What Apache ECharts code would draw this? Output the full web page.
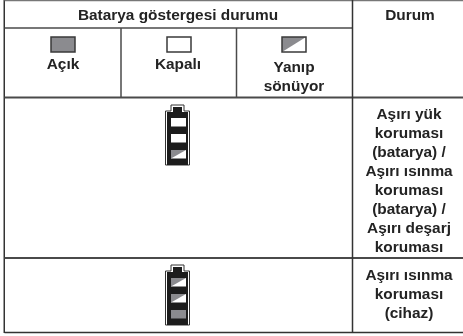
<!DOCTYPE html>
<html>
<head>
<meta charset="utf-8">
<style>
  html, body { margin: 0; padding: 0; background: #fff; }
  #chart { width: 463px; height: 336px; }
</style>
<script src="https://cdn.jsdelivr.net/npm/echarts@6/dist/echarts.min.js"></script>
</head>
<body>
<div id="chart"></div>
<script>
const tableTitle = 'Batarya göstergesi durumu';
const conditionTitle = 'Durum';
const stateLabels = ['Açık', 'Kapalı', 'Yanıp\nsönüyor'];
const conditionLabels = [
  'Aşırı yük\nkoruması\n(batarya) /\nAşırı ısınma\nkoruması\n(batarya) /\nAşırı deşarj\nkoruması',
  'Aşırı ısınma\nkoruması\n(cihaz)',
];
// top to bottom, one list per battery row
const batteryStates = [
  ['off', 'off', 'blink'],
  ['blink', 'blink', 'on'],
];
const legendStates = ['on', 'off', 'blink'];

const GRAY = '#8b8b8f';
const INK = '#232323';
const LINE = '#4a4a4a';
const FONT = '"Liberation Sans", Arial, sans-serif';

const colX = [4.5, 121, 236.5, 352.5, 463];
const rowY = [0.5, 28, 97.5, 258, 332.5];
const batteryTop = [105, 265];
const legendX = [51, 167, 282];

const chart = echarts.init(document.getElementById('chart'));

function rule(x1, y1, x2, y2, color, width) {
  return { type: 'line', shape: { x1, y1, x2, y2 }, style: { stroke: color, lineWidth: width } };
}

function label(text, x, y) {
  return {
    type: 'text',
    x,
    y,
    style: {
      text,
      fill: INK,
      font: 'bold 15.4px ' + FONT,
      align: 'center',
      verticalAlign: 'middle',
      lineHeight: 19,
    },
  };
}

function batteryOutline(top, a, b, c, d, e, f, style) {
  return {
    type: 'polygon',
    shape: {
      points: [
        [a, top + e], [b, top + e], [b, top + f], [c, top + f], [c, top + e],
        [d, top + e], [d, top + 60], [a, top + 60],
      ],
    },
    style,
  };
}

function batteryFrame(top) {
  return [
    batteryOutline(top, 165.5, 171, 184, 189.5, 6, 0, { fill: '#fff', stroke: '#333', lineWidth: 1 }),
    batteryOutline(top, 167, 173, 182, 188, 7, 2, { fill: '#1c1c1c' }),
  ];
}

// one window, either legend swatch or battery segment
function drawWindow(x, y, w, h, state, stroke) {
  const children = [{
    type: 'rect',
    shape: { x, y, width: w, height: h },
    style: { fill: state === 'on' ? GRAY : '#fff' },
  }];
  if (state === 'blink') {
    children.push({
      type: 'polygon',
      shape: { points: [[x, y], [x + w, y], [x, y + h]] },
      style: { fill: GRAY },
    });
  }
  if (stroke) {
    children.push({
      type: 'rect',
      shape: { x, y, width: w, height: h },
      style: { fill: 'none', stroke, lineWidth: 1.5 },
    });
  }
  return { type: 'group', children };
}

const windowData = [];
legendStates.forEach((state, i) => windowData.push(['legend', i, 0, state]));
batteryStates.forEach((states, row) => {
  states.forEach((state, slot) => windowData.push(['battery', row, slot, state]));
});

chart.setOption({
  animation: false,
  backgroundColor: '#fff',
  grid: { left: 0, right: 0, top: 0, bottom: 0 },
  xAxis: { type: 'value', min: 0, max: 463, show: false },
  yAxis: { type: 'value', min: 0, max: 336, inverse: true, show: false },
  graphic: {
    elements: [
      rule(3.5, 0, 3.5, 333, '#9a9a9a', 1),
      rule(4.5, 0, 4.5, 333, '#333', 1),
      rule(colX[0], rowY[0], 463, rowY[0], '#777', 1.5),
      rule(colX[0], rowY[1], colX[3], rowY[1], LINE, 1.5),
      rule(colX[0], rowY[2], 463, rowY[2], LINE, 2),
      rule(colX[0], rowY[3], 463, rowY[3], LINE, 2),
      rule(colX[0], rowY[4], 463, rowY[4], '#333', 1.5),
      rule(colX[1], rowY[1], colX[1], rowY[2], LINE, 1.5),
      rule(colX[2], rowY[1], colX[2], rowY[2], LINE, 1.5),
      rule(colX[3], 0, colX[3], rowY[4], '#333', 1.5),
      label(tableTitle, 178, 16),
      label(conditionTitle, 410, 16),
      label(stateLabels[0], 63, 65),
      label(stateLabels[1], 178, 65),
      label(stateLabels[2], 294, 77),
      label(conditionLabels[0], 409, 181),
      label(conditionLabels[1], 409, 295),
    ].concat(batteryFrame(batteryTop[0]), batteryFrame(batteryTop[1])),
  },
  series: [
    {
      type: 'custom',
      coordinateSystem: 'cartesian2d',
      z: 10,
      data: windowData,
      encode: { x: 1, y: 2 },
      renderItem(params, api) {
        const item = windowData[params.dataIndex];
        if (item[0] === 'legend') {
          const p = api.coord([legendX[item[1]], 37]);
          return drawWindow(p[0], p[1], 24, 15, item[3], '#3a3a3a');
        }
        const p = api.coord([171, batteryTop[item[1]] + 13 + item[2] * 16]);
        return drawWindow(p[0], p[1], 15, 8.5, item[3], null);
      },
    },
  ],
});
</script>
</body>
</html>
